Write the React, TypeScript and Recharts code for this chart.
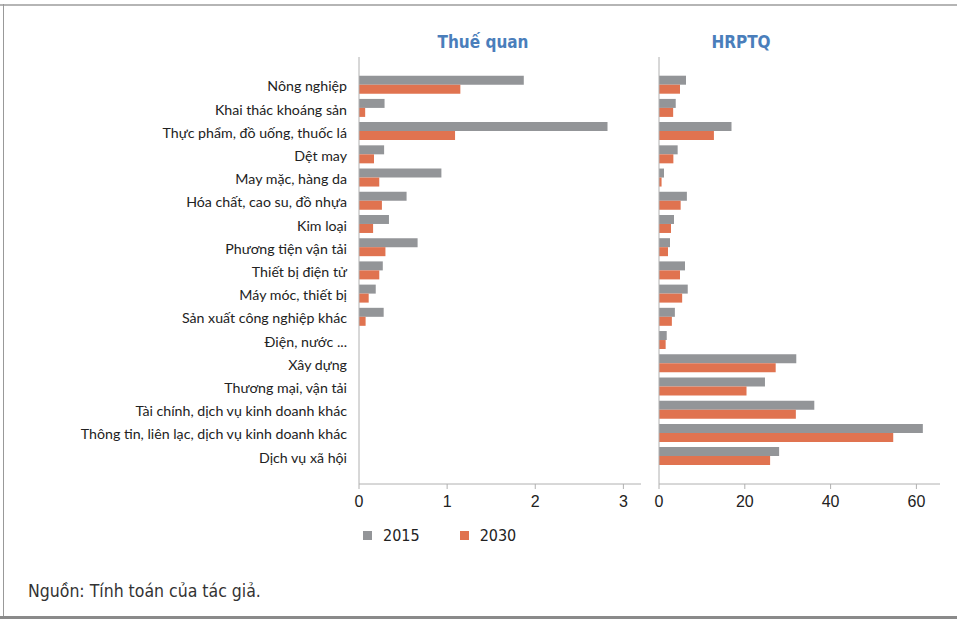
import { BarChart, Bar, XAxis, YAxis } from 'recharts'

const categories = [
  'Nông nghiệp',
  'Khai thác khoáng sản',
  'Thực phẩm, đồ uống, thuốc lá',
  'Dệt may',
  'May mặc, hàng da',
  'Hóa chất, cao su, đồ nhựa',
  'Kim loại',
  'Phương tiện vận tải',
  'Thiết bị điện tử',
  'Máy móc, thiết bị',
  'Sản xuất công nghiệp khác',
  'Điện, nước ...',
  'Xây dựng',
  'Thương mại, vận tải',
  'Tài chính, dịch vụ kinh doanh khác',
  'Thông tin, liên lạc, dịch vụ kinh doanh khác',
  'Dịch vụ xã hội',
]

const tariff2015 = [1.87, 0.29, 2.82, 0.285, 0.935, 0.54, 0.34, 0.665, 0.27, 0.19, 0.28, 0, 0, 0, 0, 0, 0]
const tariff2030 = [1.15, 0.07, 1.09, 0.17, 0.23, 0.26, 0.16, 0.3, 0.23, 0.11, 0.075, 0, 0, 0, 0, 0, 0]
const ntm2015 = [6.3, 3.9, 16.9, 4.35, 1.17, 6.5, 3.5, 2.56, 6.06, 6.7, 3.7, 1.8, 32.0, 24.7, 36.2, 61.5, 28.0]
const ntm2030 = [4.9, 3.3, 12.8, 3.35, 0.6, 5.05, 2.8, 2.1, 4.9, 5.4, 3.0, 1.55, 27.2, 20.4, 31.9, 54.6, 25.9]

const tariffTicks = [0, 1, 2, 3]
const ntmTicks = [0, 20, 40, 60]
const years = ['2015', '2030']

const GRAY = '#939598'
const ORANGE = '#e07350'
const AXIS = '#b0b0b0'
const NARROW = '"Liberation Sans Narrow", "DejaVu Sans Condensed", sans-serif'

const tariffData = categories.map((name, i) => ({ name, y2015: tariff2015[i], y2030: tariff2030[i] }))
const ntmData = categories.map((name, i) => ({ name, y2015: ntm2015[i], y2030: ntm2030[i] }))

const tickStyle = { fontSize: 16, fill: '#222', fontFamily: '"Liberation Sans", Arial, sans-serif' }

function CategoryTick(props: any) {
  const { x, y, payload } = props
  return (
    <text x={x} y={y} dy={7} textAnchor="end" fontSize={14.2} fill="#222" fontFamily="Lato, sans-serif">
      {payload.value}
    </text>
  )
}

export default function App() {
  return (
    <div style={{ position: 'absolute', left: 0, top: 0, width: 957, height: 619, background: '#fff', overflow: 'hidden' }}>
      <div style={{ position: 'absolute', left: 0, top: 4, width: 957, height: 2, background: '#b5b5b5' }} />
      <div style={{ position: 'absolute', left: 3, top: 4, width: 1, height: 614, background: '#999' }} />
      <div style={{ position: 'absolute', left: 0, top: 616, width: 957, height: 3, background: '#8a8a8a' }} />

      <div style={{ position: 'absolute', left: 383, top: 32, width: 200, textAlign: 'center', color: '#4a7ebb', fontWeight: 'bold', fontSize: 17, fontFamily: NARROW }}>
        Thuế quan
      </div>
      <div style={{ position: 'absolute', left: 641, top: 32, width: 200, textAlign: 'center', color: '#4a7ebb', fontWeight: 'bold', fontSize: 17, fontFamily: NARROW }}>
        HRPTQ
      </div>

      <div style={{ position: 'absolute', left: 0, top: 0 }}>
        <BarChart
          width={645}
          height={520}
          data={tariffData}
          layout="vertical"
          margin={{ top: 57, right: 4, left: 0, bottom: 6 }}
          barGap={0}
          barSize={9}
        >
          <XAxis
            type="number"
            domain={[0, 3.2]}
            ticks={tariffTicks}
            height={30}
            tick={tickStyle}
            tickSize={5}
            tickMargin={7}
            axisLine={{ stroke: AXIS }}
            tickLine={{ stroke: AXIS }}
          />
          <YAxis
            type="category"
            dataKey="name"
            width={359}
            interval={0}
            tickLine={false}
            tickSize={6}
            tickMargin={6}
            axisLine={{ stroke: AXIS }}
            padding={{ top: 15.7, bottom: 16.7 }}
            tick={<CategoryTick />}
          />
          <Bar dataKey="y2015" fill={GRAY} isAnimationActive={false} />
          <Bar dataKey="y2030" fill={ORANGE} isAnimationActive={false} />
        </BarChart>
      </div>

      <div style={{ position: 'absolute', left: 640, top: 0 }}>
        <BarChart
          width={317}
          height={520}
          data={ntmData}
          layout="vertical"
          margin={{ top: 57, right: 17, left: 0, bottom: 6 }}
          barGap={0}
          barSize={9}
        >
          <XAxis
            type="number"
            domain={[0, 65.5]}
            ticks={ntmTicks}
            height={30}
            tick={tickStyle}
            tickSize={5}
            tickMargin={7}
            axisLine={{ stroke: AXIS }}
            tickLine={{ stroke: AXIS }}
          />
          <YAxis
            type="category"
            dataKey="name"
            width={19}
            tick={false}
            tickLine={false}
            axisLine={{ stroke: AXIS }}
            padding={{ top: 15.7, bottom: 16.7 }}
          />
          <Bar dataKey="y2015" fill={GRAY} isAnimationActive={false} />
          <Bar dataKey="y2030" fill={ORANGE} isAnimationActive={false} />
        </BarChart>
      </div>

      <div style={{ position: 'absolute', left: 363, top: 526, display: 'flex', alignItems: 'center', fontFamily: NARROW, fontSize: 16, color: '#222' }}>
        {years.map((y, i) => (
          <div key={y} style={{ display: 'flex', alignItems: 'center', marginRight: 40 }}>
            <span style={{ display: 'inline-block', width: 9, height: 9, background: i === 0 ? GRAY : ORANGE, marginRight: 11 }} />
            <span>{y}</span>
          </div>
        ))}
      </div>

      <div style={{ position: 'absolute', left: 28, top: 581, fontFamily: NARROW, fontSize: 17.5, color: '#333' }}>
        Nguồn: Tính toán của tác giả.
      </div>
    </div>
  )
}
